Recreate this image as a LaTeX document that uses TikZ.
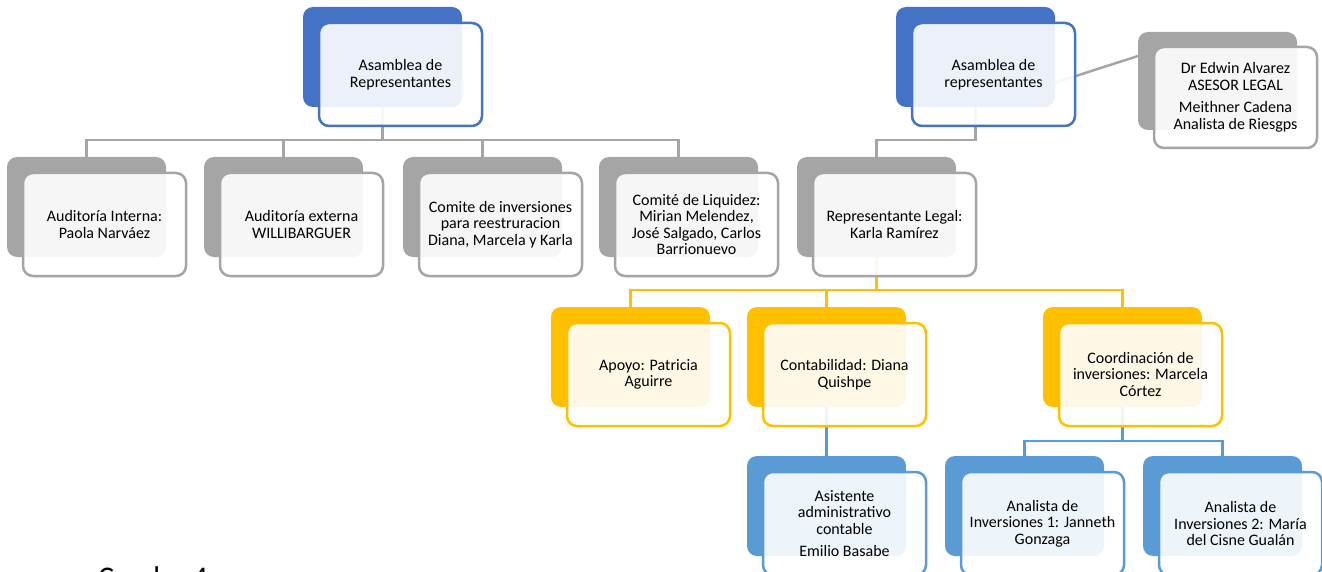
\documentclass[tikz,border=0pt]{standalone}
\usepackage{fontspec}
\setmainfont{Carlito}
\definecolor{cblue}{HTML}{4472C4}
\definecolor{cgray}{HTML}{A5A5A5}
\definecolor{cyel}{HTML}{FFC000}
\definecolor{clb}{HTML}{5B9BD5}
\tikzset{
  backbox/.style={rectangle, rounded corners=10pt, fill=#1, draw=none,
    minimum width=159pt, minimum height=100pt, anchor=north west,
    inner sep=0pt, outer sep=0pt},
  frontbox/.style={rectangle, rounded corners=10pt, draw=#1, line width=2.5pt,
    fill=white, fill opacity=0.9, text opacity=1,
    minimum width=163pt, minimum height=103pt, anchor=north west,
    align=center, font=\fontsize{16}{16.5}\selectfont, inner sep=2pt, outer sep=0pt},
  conn/.style={draw=#1, line width=2.5pt},
}
\begin{document}
\begin{tikzpicture}[x=1pt,y=-1pt]
\useasboundingbox (0,0) rectangle (1322,572);
% back shapes
\node[backbox=cblue] (a1b) at (303,7) {};
\node[backbox=cblue] (a2b) at (896,7) {};
\node[backbox=cgray, minimum height=98pt] (advb) at (1138,32) {};
\node[backbox=cgray] (b1b) at (7,157) {};
\node[backbox=cgray] (b2b) at (204,157) {};
\node[backbox=cgray] (b3b) at (403,157) {};
\node[backbox=cgray] (b4b) at (599,157) {};
\node[backbox=cgray] (b5b) at (797,157) {};
\node[backbox=cyel] (c1b) at (551,307) {};
\node[backbox=cyel] (c2b) at (747,307) {};
\node[backbox=cyel] (c3b) at (1043,307) {};
\node[backbox=clb] (d1b) at (747,456) {};
\node[backbox=clb] (d2b) at (945,456) {};
\node[backbox=clb] (d3b) at (1143,456) {};
% connectors
\draw[conn=cgray] (a1b.south) -- ++(0,33) -| (b1b.north);
\draw[conn=cgray] (a1b.south) -- ++(0,33) -| (b2b.north);
\draw[conn=cgray] (a1b.south) -- ++(0,33) -| (b3b.north);
\draw[conn=cgray] (a1b.south) -- ++(0,33) -| (b4b.north);
\draw[conn=cgray] (a2b.south) -- ++(0,33) -| (b5b.north);
\coordinate (p1) at (1054,83);
\coordinate (p2) at (1138,56);
\draw[conn=cgray] (p1) -- (p2);
\draw[conn=cyel] (b5b.south) -- ++(0,33) -| (c1b.north);
\draw[conn=cyel] (b5b.south) -- ++(0,33) -| (c2b.north);
\draw[conn=cyel] (b5b.south) -- ++(0,33) -| (c3b.north);
\draw[conn=clb] (c2b.south) -- (d1b.north);
\draw[conn=clb] (c3b.south) -- ++(0,34) -| (d2b.north);
\draw[conn=clb] (c3b.south) -- ++(0,34) -| (d3b.north);
% front shapes
\node[frontbox=cblue] (a1f) at (319,23) {Asamblea de\\Representantes};
\node[frontbox=cblue] (a2f) at (912,23) {Asamblea de\\representantes};
\node[frontbox=cgray, minimum height=101pt] (advf) at (1154,47) {Dr Edwin Alvarez\\ASESOR LEGAL\\[6pt]Meithner Cadena\\Analista de Riesgps};
\node[frontbox=cgray] (b1f) at (23,173) {Auditoría Interna:\\Paola Narváez};
\node[frontbox=cgray] (b2f) at (220,173) {Auditoría externa\\WILLIBARGUER};
\node[frontbox=cgray] (b3f) at (419,173) {Comite de inversiones\\para reestruracion\\Diana, Marcela y Karla};
\node[frontbox=cgray] (b4f) at (615,173) {Comité de Liquidez:\\Mirian Melendez,\\José Salgado, Carlos\\Barrionuevo};
\node[frontbox=cgray] (b5f) at (813,173) {Representante Legal:\\Karla Ramírez};
\node[frontbox=cyel] (c1f) at (567,323) {Apoyo: Patricia\\Aguirre};
\node[frontbox=cyel] (c2f) at (763,323) {Contabilidad: Diana\\Quishpe};
\node[frontbox=cyel] (c3f) at (1059,323) {Coordinación de\\inversiones: Marcela\\Córtez};
\node[frontbox=clb] (d1f) at (763,472) {Asistente\\administrativo\\contable\\[6pt]Emilio Basabe};
\node[frontbox=clb] (d2f) at (961,472) {Analista de\\Inversiones 1: Janneth\\Gonzaga};
\node[frontbox=clb] (d3f) at (1159,472) {Analista de\\Inversiones 2: María\\del Cisne Gualán};
% caption (cut off at the bottom edge, as in the reference)
\node[anchor=base west, font=\fontsize{30}{36}\selectfont, inner sep=0pt] (cap) at (98,587) {Cuadro 4};
\end{tikzpicture}
\end{document}
